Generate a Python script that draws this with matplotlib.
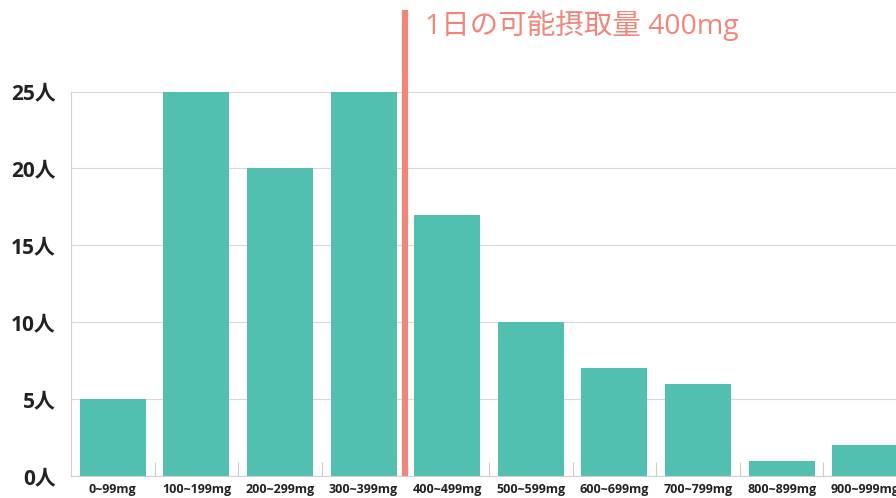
import matplotlib.pyplot as plt
import numpy as np

plt.rcParams['font.family'] = ['Open Sans', 'Noto Sans CJK JP', 'DejaVu Sans']

categories = ["0~99mg", "100~199mg", "200~299mg", "300~399mg", "400~499mg",
              "500~599mg", "600~699mg", "700~799mg", "800~899mg", "900~999mg"]
counts = [5, 25, 20, 25, 17, 10, 7, 6, 1, 2]
y_ticks = [0, 5, 10, 15, 20, 25]
y_labels = [f"{v}人" for v in y_ticks]
limit_pos = 3.5
limit_text = "1日の可能摂取量 400mg"

fig = plt.figure(figsize=(8.96, 4.98), dpi=100)
ax = fig.add_axes([71 / 896, 22 / 498, 836 / 896, 466 / 498])

x = np.arange(len(categories))
ax.bar(x, counts, width=0.79, color="#52BFB0", zorder=2)

ax.set_xlim(-0.5, 9.5)
ax.set_ylim(0, 30.3)

ax.set_yticks(y_ticks)
ax.set_yticklabels(y_labels, fontsize=15, fontweight="bold", color="#222222")
ax.set_xticks(x)
ax.set_xticklabels(categories, fontsize=9, fontweight="bold", color="#222222")
ax.tick_params(axis="y", length=0, pad=11)
ax.tick_params(axis="x", which="major", length=0, pad=5)
ax.set_xticks(np.arange(0.5, 9.5, 1), minor=True)
ax.tick_params(axis="x", which="minor", direction="in", length=10, color="#cccccc", width=0.8)

ax.grid(axis="y", color="#d9d9d9", linewidth=0.8, zorder=0)
for s in ["top", "right"]:
    ax.spines[s].set_visible(False)
ax.spines["left"].set_color("#d0d0d0")
ax.spines["bottom"].set_color("#d0d0d0")
ax.spines["left"].set_bounds(0, 25)

ax.axvline(limit_pos, ymin=0, ymax=1, color="#F0867A", linewidth=4.5, zorder=3)
ax.text(limit_pos + 0.24, 29.3, limit_text, fontsize=20.5, color="#F0867A",
        va="center", ha="left")

plt.savefig("out.png", dpi=100)
